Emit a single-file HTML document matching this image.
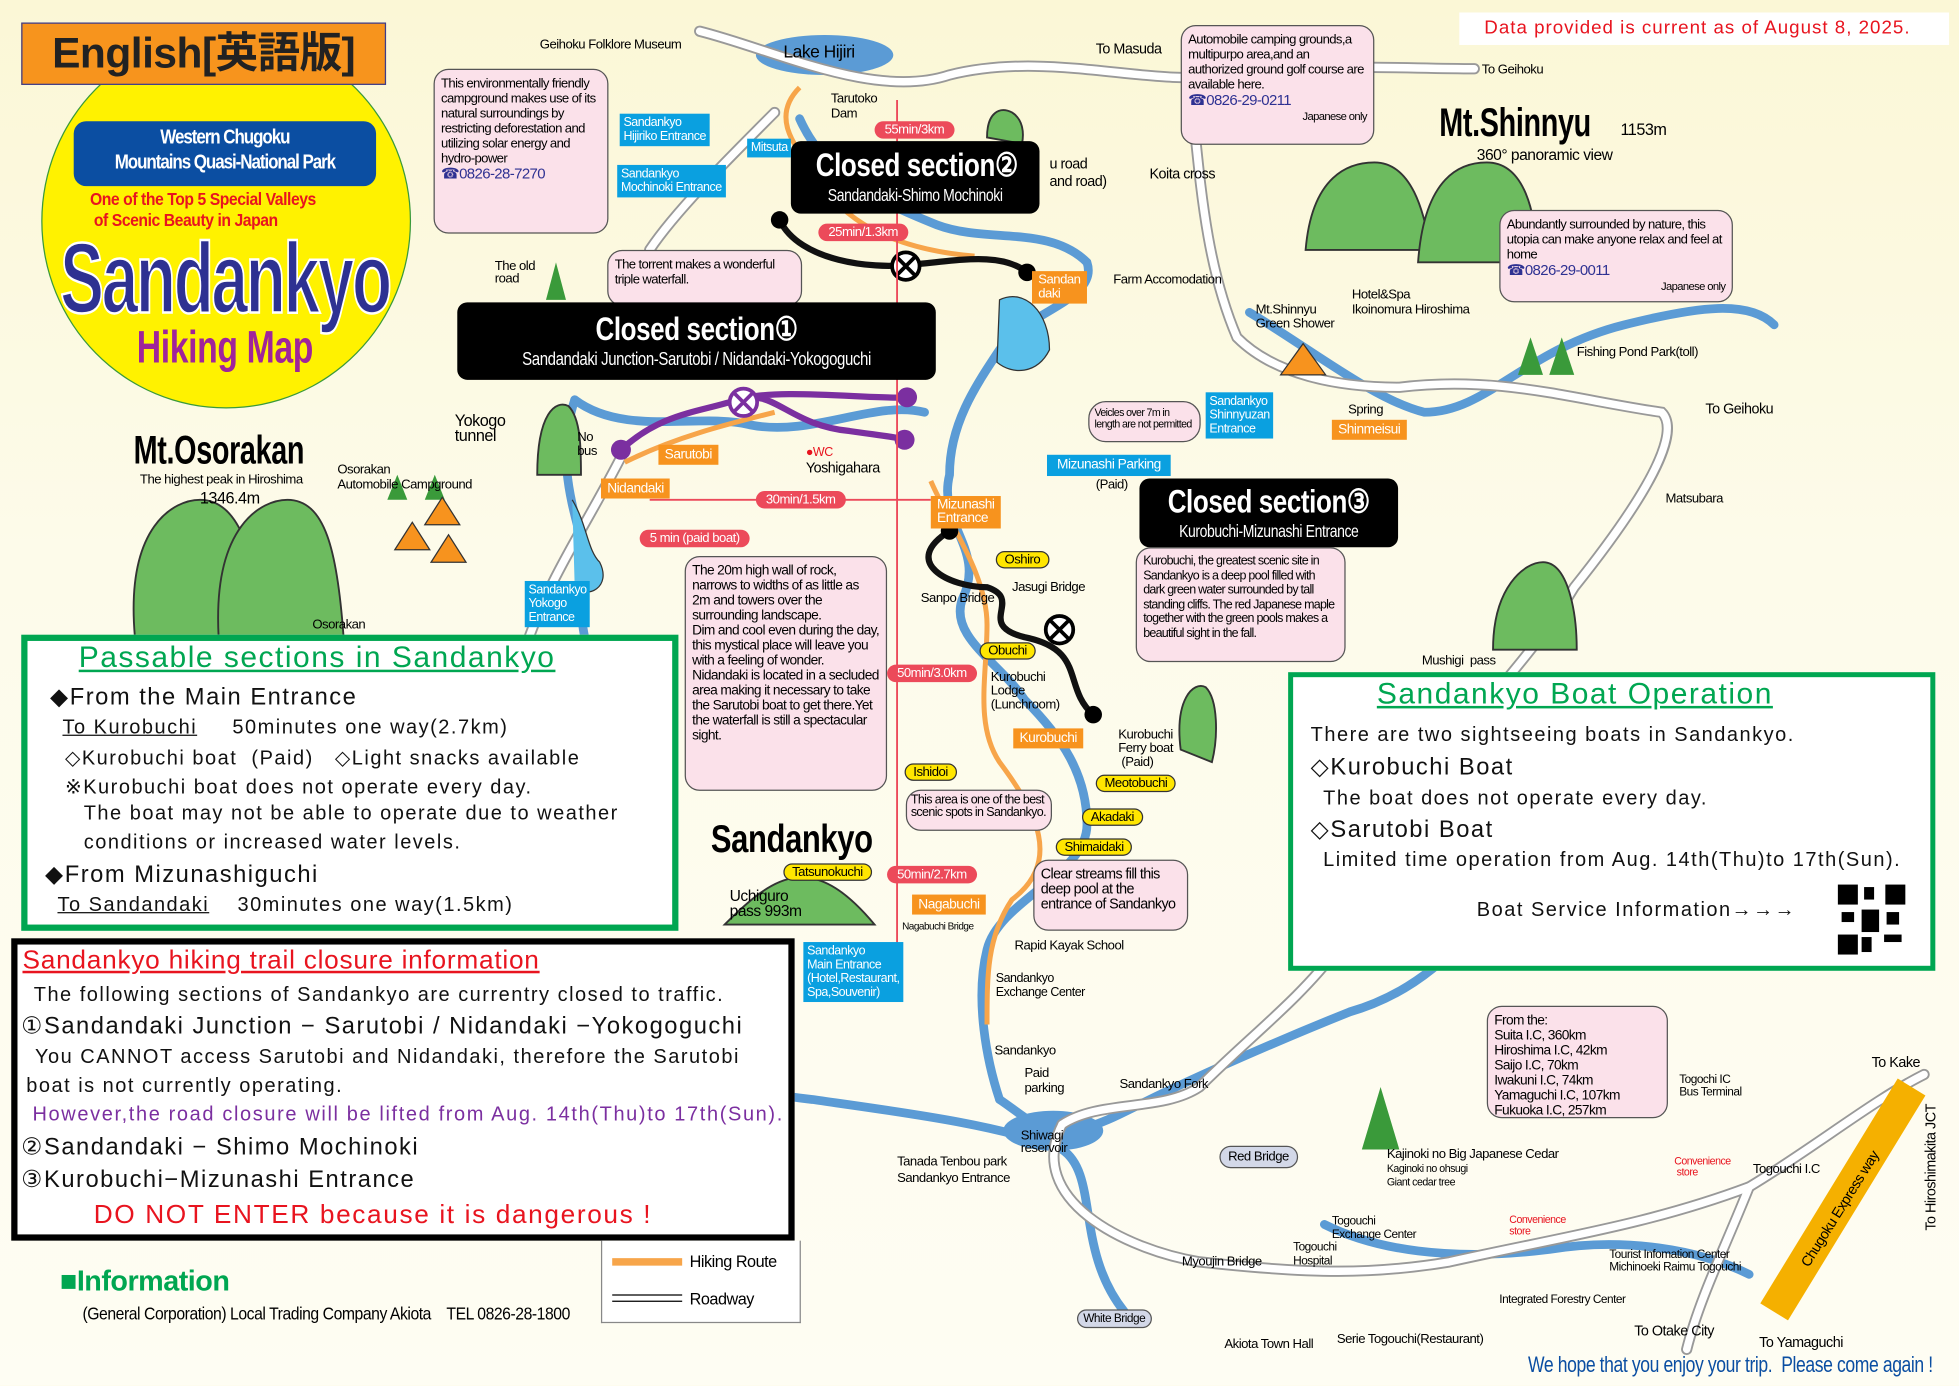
<!DOCTYPE html>
<html><head><meta charset="utf-8">
<style>
html,body{margin:0;padding:0;}
body{width:1959px;height:1386px;overflow:hidden;background:#fdfbe9;}
#w{position:absolute;left:0;top:0;width:1568px;height:1109px;transform:scale(1.2494);transform-origin:0 0;overflow:hidden;
background:linear-gradient(180deg,#fbf7d6 0%,#fdfbea 40%,#fefdf3 100%);font-family:"Liberation Sans",sans-serif;letter-spacing:-0.4px;}
.a{position:absolute;white-space:nowrap;}
.pk{position:absolute;background:#fbe1ea;border:1.5px solid #555;border-radius:12px;font-size:10.5px;line-height:12px;padding:5px 5px;box-sizing:border-box;white-space:normal;overflow:hidden;letter-spacing:-0.5px;}
.bl{position:absolute;background:#0aa0e0;color:#fff;font-size:10px;line-height:11px;padding:2px 3px;}
.or{position:absolute;background:#f7931e;color:#fff;font-size:11px;padding:2px 5px;}
.rd{position:absolute;background:#ec4a5a;color:#fff;font-size:10.5px;padding:1px 8px;border-radius:9px;}
.yl{position:absolute;background:#ffe600;border:1px solid #333;border-radius:9px;font-size:10.5px;padding:0 6px;}
.cs{position:absolute;background:#000;color:#fff;border-radius:8px;text-align:center;white-space:nowrap;overflow:hidden;}
.cs div{transform:scaleX(.8);}
.c{display:inline-block;transform:scaleX(.72);transform-origin:0 0;}
.j{font-family:"Liberation Sans","Noto Sans CJK JP",sans-serif;}
.bx{letter-spacing:1.2px;}
</style></head><body><div id="w">
<svg width="1568" height="1109" style="position:absolute;left:0;top:0">
<g fill="none" stroke="#5b9bd5" stroke-width="7" stroke-linecap="round">
<path d="M640 95 C660 140 700 160 750 180 C790 195 840 180 870 210 C880 240 820 250 800 280 C780 310 760 340 760 380 C750 420 790 440 770 480 C760 510 800 530 820 560 C850 590 870 620 870 660 C870 700 800 720 790 760 C780 800 790 850 800 880"/>
<path d="M460 320 C500 350 560 330 600 340 C650 350 700 320 740 330"/>
<path d="M460 320 C440 380 470 430 470 460 C460 500 470 520 480 540"/>
<path d="M800 880 C830 900 840 920 900 890 C960 860 1030 830 1080 810 C1150 790 1180 740 1220 700"/>
<path d="M470 780 C480 840 560 870 650 880 C720 890 800 900 850 920 C880 940 860 1000 900 1050"/>
<path d="M1000 250 C1050 280 1100 320 1140 330 C1190 330 1220 280 1300 260 C1360 245 1400 240 1420 260"/>
<path d="M1060 980 C1100 1000 1160 1010 1240 1000 C1300 990 1360 1000 1400 1020"/>
</g>
<ellipse cx="660" cy="44" rx="55" ry="16" fill="#5b9bd5"/>
<ellipse cx="843" cy="905" rx="40" ry="16" fill="#5b9bd5"/>
<g fill="none" stroke="#999" stroke-width="9" stroke-linecap="round"><path d="M560 25 C620 40 700 80 760 60 C840 40 920 70 980 60 C1050 50 1120 55 1180 55"/>
<path d="M950 50 C960 120 960 200 990 270 C1020 300 1070 310 1120 310 C1200 300 1260 320 1330 330 C1350 350 1300 420 1260 470 C1230 520 1190 560 1160 600 C1100 640 1080 700 1070 760 C1040 800 1000 830 960 870 C930 890 880 880 850 900"/>
<path d="M500 360 C470 420 440 460 420 520"/><path d="M850 900 C820 960 900 1000 960 1010 C1050 1020 1100 1020 1160 1010 C1250 990 1320 980 1400 950 C1450 920 1500 880 1540 860"/>
<path d="M620 90 C580 130 540 170 520 200"/><path d="M1400 950 C1380 1000 1360 1040 1350 1080"/>
</g>
<g fill="none" stroke="#fff" stroke-width="6" stroke-linecap="round"><path d="M560 25 C620 40 700 80 760 60 C840 40 920 70 980 60 C1050 50 1120 55 1180 55"/>
<path d="M950 50 C960 120 960 200 990 270 C1020 300 1070 310 1120 310 C1200 300 1260 320 1330 330 C1350 350 1300 420 1260 470 C1230 520 1190 560 1160 600 C1100 640 1080 700 1070 760 C1040 800 1000 830 960 870 C930 890 880 880 850 900"/>
<path d="M500 360 C470 420 440 460 420 520"/><path d="M850 900 C820 960 900 1000 960 1010 C1050 1020 1100 1020 1160 1010 C1250 990 1320 980 1400 950 C1450 920 1500 880 1540 860"/>
<path d="M620 90 C580 130 540 170 520 200"/><path d="M1400 950 C1380 1000 1360 1040 1350 1080"/>
</g>
<path d="M1420 1050 L1530 870" stroke="#f5b000" stroke-width="26"/>
<g fill="none" stroke="#f7a54a" stroke-width="4"><path d="M640 70 C610 100 650 130 660 150 C680 180 720 200 780 205"/><path d="M745 385 C760 420 790 460 790 500 C790 540 780 580 800 610 C830 650 850 690 810 720 C790 750 790 780 790 820"/><path d="M500 370 C540 350 580 340 620 330"/></g>
<g fill="none" stroke="#111" stroke-width="5" stroke-linecap="round"><path d="M624 176 C640 210 700 215 725 212 C760 210 800 200 822 218"/><path d="M760 425 C720 450 760 470 790 470 C820 480 780 500 820 510 C870 520 850 550 875 572"/></g>
<circle cx="624" cy="176" r="7"/><circle cx="822" cy="218" r="7"/><circle cx="875" cy="572" r="7"/><circle cx="760" cy="425" r="7"/>
<path d="M497 360 C530 330 560 330 590 320 C620 310 630 340 680 345 C700 348 720 350 724 352 M590 320 C620 310 700 320 726 318" fill="none" stroke="#7b2fa0" stroke-width="5"/>
<circle cx="497" cy="360" r="8" fill="#7b2fa0"/><circle cx="724" cy="352" r="8" fill="#7b2fa0"/><circle cx="726" cy="318" r="8" fill="#7b2fa0"/>
<g fill="#fff" stroke="#000" stroke-width="3"><circle cx="725" cy="213" r="11"/><circle cx="848" cy="504" r="11"/></g>
<circle cx="595" cy="322" r="11" fill="#fff" stroke="#7b2fa0" stroke-width="3"/>
<g stroke="#000" stroke-width="3"><path d="M717 205l16 16M733 205l-16 16M840 496l16 16M856 496l-16 16"/></g>
<path d="M587 314l16 16M603 314l-16 16" stroke="#7b2fa0" stroke-width="3"/>
<g stroke="#ec4a5a" stroke-width="1.5"><line x1="718" y1="80" x2="718" y2="760"/><line x1="520" y1="400" x2="745" y2="400"/></g>
<g fill="#6dbb5f" stroke="#333" stroke-width="1.5">
<path d="M108 510 C100 420 140 400 160 400 C190 400 205 440 210 510Z"/><path d="M175 510 C170 420 210 400 230 400 C260 400 270 440 275 510Z"/>
<path d="M1045 200 C1050 140 1080 130 1100 130 C1130 130 1140 170 1145 200Z"/><path d="M1135 210 C1140 140 1170 130 1190 130 C1220 130 1230 170 1230 210Z"/>
<path d="M1195 520 C1195 470 1220 450 1235 450 C1255 450 1262 490 1262 520Z"/>
<path d="M580 740 C620 700 650 680 700 740Z"/><path d="M945 600 C940 560 955 545 965 550 C975 560 975 590 970 610Z"/>
<path d="M430 380 C430 330 445 320 455 325 C465 335 465 360 465 380Z"/><path d="M790 110 C790 90 800 85 810 90 C818 95 820 105 818 115Z"/>
</g>
<g fill="#3a9a3a"><path d="M310 400l8 -20 8 20z M340 400l8 -20 8 20z M1215 300l10 -30 10 30z M1240 300l10 -30 10 30z M1090 920l15 -50 15 50z M437 240l8 -30 8 30z"/></g>
<g fill="#f7931e" stroke="#333"><path d="M316 440l14 -22 14 22z"/><path d="M340 420l14 -22 14 22z"/><path d="M345 450l14 -22 14 22z"/><path d="M1025 300l18 -25 18 25z"/></g>
<path d="M458 400 C470 420 470 440 480 450 C490 470 470 480 460 470" fill="#5bc0eb" stroke="#333"/>
<path d="M800 240 C820 230 840 250 840 280 C830 300 810 300 798 290Z" fill="#5bc0eb" stroke="#333"/>
</svg>

<div class="a" style="left:33px;top:27px;width:294px;height:298px;border-radius:50%;background:#fff200;border:1px solid #3a9a3a"></div>
<div class="a j" style="left:17px;top:18px;width:290px;height:48px;background:#f7941d;border:1px solid #3c3c8c;font-size:34px;font-weight:bold;line-height:48px;text-align:center;color:#222">English[英語版]</div>
<div class="a" style="left:59px;top:97px;width:242px;height:52px;background:#0b4ea2;border-radius:10px;color:#fff;font-weight:bold;text-align:center;font-size:16px;line-height:20px;padding-top:4px;box-sizing:border-box;letter-spacing:-1px"><div style="transform:scaleX(.85)">Western Chugoku<br>Mountains Quasi-National Park</div></div>
<div class="a" style="left:72px;top:151px;color:#e8141f;font-size:14px;font-weight:bold;line-height:17px"><span class="c" style="transform:scaleX(.9)">One of the Top 5 Special Valleys<br>&nbsp;of Scenic Beauty in Japan</span></div>
<div class="a" style="left:-20px;top:180px;width:400px;text-align:center;color:#2e3192;font-size:80px;font-weight:bold;letter-spacing:-3px;-webkit-text-stroke:2px #fff;line-height:86px"><div style="transform:scaleX(.66)">Sandankyo</div></div>
<div class="a" style="left:0px;top:258px;width:360px;text-align:center;color:#a0249a;font-size:36px;font-weight:bold;line-height:40px"><div style="transform:scaleX(.75)">Hiking Map</div></div>

<div class="a" style="left:1168px;top:10px;width:392px;height:26px;background:#fff"></div>
<div class="a" style="left:1188px;top:14px;color:#e8141f;font-size:15px;letter-spacing:0.8px">Data provided is current as of August 8, 2025.</div>

<div class="pk" style="left:347px;top:55px;width:140px;height:132px">This environmentally friendly campground makes use of its natural surroundings by restricting deforestation and utilizing solar energy and hydro-power<br><span style="color:#2e3192;font-size:12px">☎0826-28-7270</span></div>
<div class="pk" style="left:486px;top:200px;width:156px;height:45px">The torrent makes a wonderful triple waterfall.</div>
<div class="pk" style="left:548px;top:445px;width:162px;height:188px;font-size:11px">The 20m high wall of rock, narrows to widths of as little as 2m and towers over the surrounding landscape.<br>Dim and cool even during the day, this mystical place will leave you with a feeling of wonder. Nidandaki is located in a secluded area making it necessary to take the Sarutobi boat to get there.Yet the waterfall is still a spectacular sight.</div>
<div class="pk" style="left:945px;top:20px;width:155px;height:96px">Automobile camping grounds,a multipurpo area,and an authorized ground golf course are available here.<br><span style="color:#2e3192;font-size:12px">☎0826-29-0211</span><div style="text-align:right;font-size:9px">Japanese only</div></div>
<div class="pk" style="left:1200px;top:168px;width:187px;height:74px">Abundantly surrounded by nature, this utopia can make anyone relax and feel at home<br><span style="color:#2e3192;font-size:12px">☎0826-29-0011</span><div style="text-align:right;font-size:9px">Japanese only</div></div>
<div class="pk" style="left:909px;top:438px;width:168px;height:92px;font-size:10px;line-height:11.5px;letter-spacing:-0.6px">Kurobuchi, the greatest scenic site in Sandankyo is a deep pool filled with dark green water surrounded by tall standing cliffs. The red Japanese maple together with the green pools makes a beautiful sight in the fall.</div>
<div class="pk" style="left:827px;top:688px;width:124px;height:57px;font-size:11.5px">Clear streams fill this deep pool at the entrance of Sandankyo</div>
<div class="pk" style="left:725px;top:632px;width:117px;height:33px;font-size:10px;line-height:10px;padding:3px">This area is one of the best scenic spots in Sandankyo.</div>
<div class="pk" style="left:1190px;top:805px;width:145px;height:90px;line-height:12px;font-size:11px">From the:<br>Suita I.C, 360km<br>Hiroshima I.C, 42km<br>Saijo I.C, 70km<br>Iwakuni I.C, 74km<br>Yamaguchi I.C, 107km<br>Fukuoka I.C, 257km</div>
<div class="pk" style="left:871px;top:321px;width:90px;height:33px;font-size:8.5px;line-height:9px;padding:4px;border-radius:14px">Veicles over 7m in length are not permitted</div>

<div class="cs" style="left:366px;top:242px;width:383px;height:62px"><div style="font-size:26px;font-weight:bold;margin-top:6px">Closed section①</div><div style="font-size:15px">Sandandaki Junction-Sarutobi / Nidandaki-Yokogoguchi</div></div>
<div class="cs" style="left:633px;top:113px;width:199px;height:58px"><div style="font-size:26px;font-weight:bold;margin-top:4px">Closed section②</div><div style="font-size:14px">Sandandaki-Shimo Mochinoki</div></div>
<div class="cs" style="left:912px;top:383px;width:207px;height:55px"><div style="font-size:26px;font-weight:bold;margin-top:3px">Closed section③</div><div style="font-size:14px">Kurobuchi-Mizunashi Entrance</div></div>

<div class="a" style="left:432px;top:30px;font-size:10.5px">Geihoku Folklore Museum</div>
<div class="a" style="left:627px;top:33px;font-size:14px">Lake Hijiri</div>
<div class="a" style="left:665px;top:73px;font-size:10.5px;line-height:12px">Tarutoko<br>Dam</div>
<div class="bl" style="left:496px;top:91px">Sandankyo<br>Hijiriko Entrance</div>
<div class="bl" style="left:494px;top:132px">Sandankyo<br>Mochinoki Entrance</div>
<div class="bl" style="left:598px;top:111px">Mitsuta</div>
<div class="rd" style="left:700px;top:97px">55min/3km</div>
<div class="rd" style="left:655px;top:179px">25min/1.3km</div>
<div class="rd" style="left:605px;top:393px">30min/1.5km</div>
<div class="rd" style="left:512px;top:424px">5 min (paid boat)</div>
<div class="rd" style="left:710px;top:532px">50min/3.0km</div>
<div class="rd" style="left:710px;top:693px">50min/2.7km</div>
<div class="a" style="left:877px;top:34px;font-size:11.5px">To Masuda</div>
<div class="a" style="left:1186px;top:50px;font-size:10.5px">To Geihoku</div>
<div class="a" style="left:1152px;top:80px;font-size:32px;font-weight:bold"><span class="c">Mt.Shinnyu</span></div>
<div class="a" style="left:1297px;top:96px;font-size:13px">1153m</div>
<div class="a" style="left:1182px;top:117px;font-size:12.5px">360° panoramic view</div>
<div class="a" style="left:840px;top:125px;font-size:11.5px;line-height:14px">u road<br>and road)</div>
<div class="a" style="left:920px;top:134px;font-size:11.5px">Koita cross</div>
<div class="or" style="left:826px;top:217px;line-height:11px;font-size:10.5px">Sandan<br>daki</div>
<div class="a" style="left:891px;top:218px;font-size:10.5px">Farm Accomodation</div>
<div class="a" style="left:1005px;top:243px;font-size:10.5px;line-height:11px">Mt.Shinnyu<br>Green Shower</div>
<div class="a" style="left:1082px;top:230px;font-size:10.5px;line-height:12px">Hotel&amp;Spa<br>Ikoinomura Hiroshima</div>
<div class="a" style="left:1262px;top:276px;font-size:10.5px">Fishing Pond Park(toll)</div>
<div class="a" style="left:1365px;top:322px;font-size:11.5px">To Geihoku</div>
<div class="bl" style="left:965px;top:314px">Sandankyo<br>Shinnyuzan<br>Entrance</div>
<div class="a" style="left:1079px;top:322px;font-size:10.5px">Spring</div>
<div class="or" style="left:1066px;top:336px">Shinmeisui</div>
<div class="bl" style="left:838px;top:364px;font-size:11px;padding:3px 8px">Mizunashi Parking</div>
<div class="a" style="left:877px;top:382px;font-size:10.5px">(Paid)</div>
<div class="a" style="left:1333px;top:393px;font-size:10.5px">Matsubara</div>
<div class="a" style="left:396px;top:208px;font-size:10.5px;line-height:10px">The old<br>road</div>
<div class="a" style="left:364px;top:331px;font-size:13px;line-height:12px">Yokogo<br>tunnel</div>
<div class="a" style="left:462px;top:345px;font-size:10.5px;line-height:11px">No<br>bus</div>
<div class="or" style="left:527px;top:356px">Sarutobi</div>
<div class="or" style="left:481px;top:383px">Nidandaki</div>
<div class="a" style="left:645px;top:356px;font-size:11.5px;line-height:12px"><span style="color:#e8141f;font-size:10px">●WC</span><br>Yoshigahara</div>
<div class="or" style="left:745px;top:397px;line-height:11px">Mizunashi<br>Entrance</div>
<div class="a" style="left:107px;top:342px;font-size:32px;font-weight:bold"><span class="c">Mt.Osorakan</span></div>
<div class="a" style="left:112px;top:378px;font-size:10.5px">The highest peak in Hiroshima</div>
<div class="a" style="left:160px;top:391px;font-size:13px">1346.4m</div>
<div class="a" style="left:270px;top:370px;font-size:10.5px;line-height:12px">Osorakan<br>Automobile Campground</div>
<div class="a" style="left:250px;top:494px;font-size:10.5px">Osorakan</div>
<div class="bl" style="left:420px;top:465px">Sandankyo<br>Yokogo<br>Entrance</div>
<div class="yl" style="left:797px;top:441px">Oshiro</div>
<div class="a" style="left:737px;top:473px;font-size:10.5px">Sanpo Bridge</div>
<div class="a" style="left:810px;top:464px;font-size:10.5px">Jasugi Bridge</div>
<div class="yl" style="left:784px;top:514px">Obuchi</div>
<div class="a" style="left:793px;top:537px;font-size:10.5px;line-height:11px">Kurobuchi<br>Lodge<br>(Lunchroom)</div>
<div class="or" style="left:811px;top:583px">Kurobuchi</div>
<div class="a" style="left:895px;top:583px;font-size:10.5px;line-height:11px">Kurobuchi<br>Ferry boat<br>&nbsp;(Paid)</div>
<div class="yl" style="left:724px;top:611px">Ishidoi</div>
<div class="yl" style="left:877px;top:620px">Meotobuchi</div>
<div class="yl" style="left:866px;top:647px">Akadaki</div>
<div class="yl" style="left:845px;top:671px">Shimaidaki</div>
<div class="a" style="left:569px;top:654px;font-size:31px;font-weight:bold"><span class="c" style="transform:scaleX(.8)">Sandankyo</span></div>
<div class="yl" style="left:627px;top:691px">Tatsunokuchi</div>
<div class="a" style="left:584px;top:711px;font-size:12.5px;line-height:12px">Uchiguro<br>pass 993m</div>
<div class="or" style="left:730px;top:716px">Nagabuchi</div>
<div class="a" style="left:722px;top:737px;font-size:8px">Nagabuchi Bridge</div>
<div class="a" style="left:812px;top:751px;font-size:10.5px">Rapid Kayak School</div>
<div class="bl" style="left:643px;top:754px">Sandankyo<br>Main Entrance<br>(Hotel,Restaurant,<br>Spa,Souvenir)</div>
<div class="a" style="left:797px;top:778px;font-size:10px;line-height:11px">Sandankyo<br>Exchange Center</div>
<div class="a" style="left:796px;top:835px;font-size:10.5px">Sandankyo</div>
<div class="a" style="left:820px;top:853px;font-size:10.5px;line-height:12px">Paid<br>parking</div>
<div class="a" style="left:896px;top:862px;font-size:10.5px">Sandankyo Fork</div>
<div class="a" style="left:817px;top:904px;font-size:10.5px;line-height:10px">Shiwagi<br>reservoir</div>
<div class="a" style="left:718px;top:924px;font-size:10.5px;line-height:13px">Tanada Tenbou park<br>Sandankyo Entrance</div>
<div class="a" style="left:976px;top:917px;font-size:10.5px;background:#d3d8e8;border:1px solid #555;border-radius:10px;padding:2px 6px">Red Bridge</div>
<div class="a" style="left:1110px;top:919px;font-size:10.5px;line-height:11px">Kajinoki no Big Japanese Cedar<br><span style="font-size:8.5px">Kaginoki no ohsugi<br>Giant cedar tree</span></div>
<div class="a" style="left:1344px;top:860px;font-size:9.5px;line-height:10px">Togochi IC<br>Bus Terminal</div>
<div class="a" style="left:1498px;top:845px;font-size:11.5px">To Kake</div>
<div class="a" style="left:1403px;top:930px;font-size:10.5px">Togouchi I.C</div>
<div class="a" style="left:1340px;top:925px;font-size:8.5px;color:#e8141f;line-height:9px">Convenience<br>&nbsp;store</div>
<div class="a" style="left:1208px;top:972px;font-size:8.5px;color:#e8141f;line-height:9px">Convenience<br>store</div>
<div class="a" style="left:1066px;top:972px;font-size:9.5px;line-height:11px">Togouchi<br>Exchange Center</div>
<div class="a" style="left:1035px;top:993px;font-size:9.5px;line-height:11px">Togouchi<br>Hospital</div>
<div class="a" style="left:946px;top:1004px;font-size:10.5px">Myoujin Bridge</div>
<div class="a" style="left:1288px;top:1000px;font-size:9.5px;line-height:10px">Tourist Infomation Center<br>Michinoeki Raimu Togouchi</div>
<div class="a" style="left:1200px;top:1035px;font-size:9.5px">Integrated Forestry Center</div>
<div class="a" style="left:862px;top:1048px;font-size:9.5px;background:#d3d8e8;border:1px solid #555;border-radius:10px;padding:1px 4px">White Bridge</div>
<div class="a" style="left:980px;top:1070px;font-size:10.5px">Akiota Town Hall</div>
<div class="a" style="left:1070px;top:1066px;font-size:10.5px">Serie Togouchi(Restaurant)</div>
<div class="a" style="left:1308px;top:1060px;font-size:11.5px">To Otake City</div>
<div class="a" style="left:1408px;top:1069px;font-size:11.5px">To Yamaguchi</div>
<div class="a" style="left:1223px;top:1082px;font-size:18px;color:#0b4ea2"><span class="c" style="transform:scaleX(.78)">We hope that you enjoy your trip.&nbsp; Please come again !</span></div>
<div class="a" style="left:1138px;top:523px;font-size:10.5px">Mushigi&nbsp; pass</div>
<div class="a" style="left:1540px;top:985px;font-size:11.5px;transform:rotate(-90deg);transform-origin:0 0">To Hiroshimakita JCT</div>
<div class="a" style="left:1440px;top:1010px;font-size:11.5px;transform:rotate(-58deg);transform-origin:0 0">Chugoku Express way</div>

<div class="a bx" style="left:17px;top:508px;width:526px;height:237px;background:#fff;border:5px solid #00a651;box-sizing:border-box;color:#111">
<div class="a" style="left:41px;top:0;font-size:24px;color:#00a651;text-decoration:underline">Passable sections in Sandankyo</div>
<div class="a" style="left:18px;top:34px;font-size:19px">◆From the Main Entrance</div>
<div class="a" style="left:28px;top:61px;font-size:16px"><u>To Kurobuchi</u>&nbsp;&nbsp;&nbsp;&nbsp; 50minutes one way(2.7km)</div>
<div class="a" style="left:30px;top:84px;font-size:16px">◇Kurobuchi boat&nbsp; (Paid)&nbsp;&nbsp; ◇Light snacks available</div>
<div class="a" style="left:30px;top:107px;font-size:16px">※Kurobuchi boat does not operate every day.</div>
<div class="a" style="left:45px;top:130px;font-size:16px">The boat may not be able to operate due to weather</div>
<div class="a" style="left:45px;top:153px;font-size:16px">conditions or increased water levels.</div>
<div class="a" style="left:14px;top:176px;font-size:19px">◆From Mizunashiguchi</div>
<div class="a" style="left:24px;top:203px;font-size:16px"><u>To Sandandaki</u>&nbsp;&nbsp;&nbsp; 30minutes one way(1.5km)</div>
</div>
<div class="a bx" style="left:9px;top:751px;width:627px;height:242px;background:#fff;border:5px solid #000;box-sizing:border-box;color:#111;font-size:16px">
<div class="a" style="left:4px;top:1px;font-size:21px;color:#e8141f;text-decoration:underline;letter-spacing:0.6px">Sandankyo hiking trail closure information</div>
<div class="a" style="left:13px;top:32px">The following sections of Sandankyo are currentry closed to traffic.</div>
<div class="a" style="left:3px;top:54px;font-size:19px">①Sandandaki Junction − Sarutobi / Nidandaki −Yokogoguchi</div>
<div class="a" style="left:14px;top:82px">You CANNOT access Sarutobi and Nidandaki, therefore the Sarutobi</div>
<div class="a" style="left:7px;top:105px">boat is not currently operating.</div>
<div class="a" style="left:12px;top:128px;color:#7b2fa0;letter-spacing:1.3px">However,the road closure will be lifted from Aug. 14th(Thu)to 17th(Sun).</div>
<div class="a" style="left:3px;top:151px;font-size:19px">②Sandandaki − Shimo Mochinoki</div>
<div class="a" style="left:3px;top:177px;font-size:19px">③Kurobuchi−Mizunashi Entrance</div>
<div class="a" style="left:61px;top:205px;font-size:21px;color:#e8141f;letter-spacing:1.3px">DO NOT ENTER because it is dangerous !</div>
</div>
<div class="a" style="left:481px;top:993px;width:158px;height:65px;background:#fff;border:1px solid #888;border-top:none"></div>
<div class="a" style="left:490px;top:1007px;width:56px;height:6px;background:#f7a54a"></div>
<div class="a" style="left:552px;top:1002px;font-size:13px">Hiking Route</div>
<div class="a" style="left:490px;top:1036px;width:56px;height:4px;border-top:1px solid #000;border-bottom:1px solid #000"></div>
<div class="a" style="left:552px;top:1032px;font-size:13px">Roadway</div>
<div class="a" style="left:48px;top:1012px;font-size:23px;color:#00a651;font-weight:bold">■Information</div>
<div class="a" style="left:66px;top:1043px;font-size:14px"><span class="c" style="transform:scaleX(.9)">(General Corporation) Local Trading Company Akiota&nbsp;&nbsp;&nbsp; TEL 0826-28-1800</span></div>
<div class="a bx" style="left:1031px;top:538px;width:518px;height:239px;background:#fff;border:4px solid #00a651;box-sizing:border-box;color:#111;font-size:16px">
<div class="a" style="left:67px;top:0;font-size:24px;color:#00a651;text-decoration:underline">Sandankyo Boat Operation</div>
<div class="a" style="left:14px;top:38px">There are two sightseeing boats in Sandankyo.</div>
<div class="a" style="left:14px;top:61px;font-size:19px">◇Kurobuchi Boat</div>
<div class="a" style="left:24px;top:89px">The boat does not operate every day.</div>
<div class="a" style="left:14px;top:111px;font-size:19px">◇Sarutobi Boat</div>
<div class="a" style="left:24px;top:138px">Limited time operation from Aug. 14th(Thu)to 17th(Sun).</div>
<div class="a" style="left:147px;top:178px">Boat Service Information→→→</div>
</div>
<svg width="1568" height="1109" style="position:absolute;left:0;top:0;pointer-events:none">
<rect x="1471" y="708" width="54" height="56" fill="#fff"/>
<g fill="#000"><rect x="1471" y="708" width="16" height="16"/><rect x="1509" y="708" width="16" height="16"/><rect x="1471" y="748" width="16" height="16"/><rect x="1490" y="728" width="14" height="18"/><rect x="1508" y="748" width="14" height="6"/><rect x="1492" y="710" width="8" height="10"/><rect x="1474" y="730" width="10" height="8"/><rect x="1510" y="730" width="10" height="10"/><rect x="1490" y="750" width="8" height="12"/></g>
</svg>
</div></body></html>
